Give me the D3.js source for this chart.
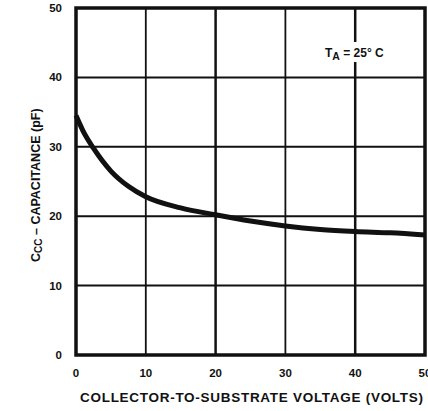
<!DOCTYPE html>
<html><head><meta charset="utf-8">
<script src="https://cdn.jsdelivr.net/npm/d3@7"></script>
<style>body{margin:0;background:#fff}text{font-family:"Liberation Sans",Arial,sans-serif;font-weight:bold;fill:#111}</style>
</head><body><svg id="c" width="428" height="411"></svg>
<script>
const voltage = [0, 1, 2.5, 5, 7.5, 10, 15, 20, 25, 30, 35, 40, 45, 50];
const capacitance = [34.5, 32.3, 29.8, 26.5, 24.3, 22.8, 21.2, 20.2, 19.3, 18.6, 18.1, 17.8, 17.6, 17.3];
const xTicks = [0, 10, 20, 30, 40, 50];
const yTicks = [0, 10, 20, 30, 40, 50];

const svg = d3.select("#c");
const x = d3.scaleLinear().domain([0, 50]).range([76, 425]);
const y = d3.scaleLinear().domain([0, 50]).range([355, 8]);

// grid
svg.append("g").selectAll("line").data(xTicks.slice(1, -1)).join("line")
  .attr("x1", d => x(d)).attr("x2", d => x(d)).attr("y1", y(0)).attr("y2", y(50))
  .attr("stroke", "#111").attr("stroke-width", d => d % 20 === 0 ? 2.5 : 1.8);
svg.append("g").selectAll("line").data(yTicks.slice(1, -1)).join("line")
  .attr("y1", d => y(d)).attr("y2", d => y(d)).attr("x1", x(0)).attr("x2", x(50))
  .attr("stroke", "#111").attr("stroke-width", 2);

// annotation background (gridline gap)
svg.append("rect").attr("x", 320).attr("y", 42).attr("width", 72).attr("height", 20).attr("fill", "#fff");

// frame
svg.append("rect").attr("x", x(0)).attr("y", y(50)).attr("width", x(50) - x(0)).attr("height", y(0) - y(50))
  .attr("fill", "none").attr("stroke", "#111").attr("stroke-width", 3.5);

// curve
svg.append("path").datum(voltage.map((v, i) => [v, capacitance[i]]))
  .attr("d", d3.line().x(d => x(d[0])).y(d => y(d[1])).curve(d3.curveMonotoneX))
  .attr("fill", "none").attr("stroke", "#111").attr("stroke-width", 5);

// tick labels
svg.append("g").selectAll("text").data(yTicks).join("text")
  .attr("x", 62).attr("y", d => y(d) + 4).attr("text-anchor", "end").attr("font-size", 11.5).text(d => d);
svg.append("g").selectAll("text").data(xTicks).join("text")
  .attr("x", d => x(d)).attr("y", 377).attr("text-anchor", "middle").attr("font-size", 11.5).text(d => d);

// axis titles
svg.append("text").attr("x", 80).attr("y", 402).attr("font-size", 13.5)
  .attr("textLength", 343).attr("lengthAdjust", "spacing")
  .text("COLLECTOR-TO-SUBSTRATE VOLTAGE (VOLTS)");
const yl = svg.append("text").attr("transform", "translate(40,262) rotate(-90)").attr("font-size", 12.5);
yl.append("tspan").text("C");
yl.append("tspan").attr("font-size", 10).attr("dy", 2).text("CC");
yl.append("tspan").attr("dy", -2).text(" – CAPACITANCE (pF)");

// annotation
const ann = svg.append("text").attr("x", 325).attr("y", 57).attr("font-size", 12);
ann.append("tspan").text("T");
ann.append("tspan").attr("font-size", 10.5).attr("dy", 3).text("A");
ann.append("tspan").attr("dy", -3).text(" = 25° C");
</script></body></html>
